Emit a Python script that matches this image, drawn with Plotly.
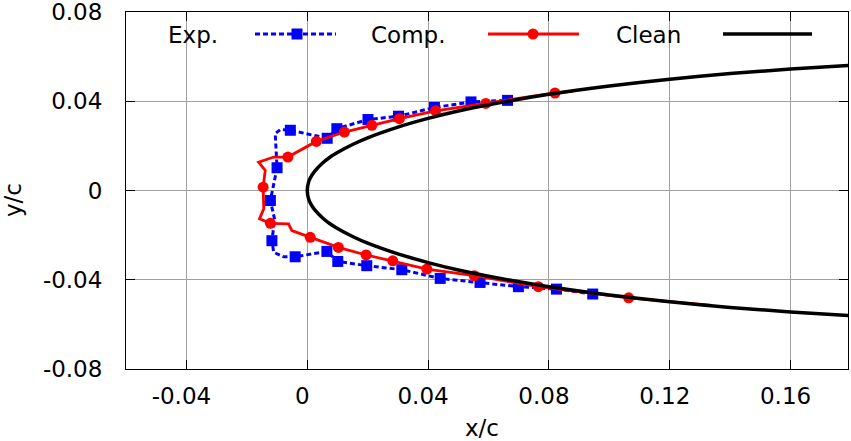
import plotly.graph_objects as go

# ---------------- data ----------------
# Experimental ice shape (blue, dotted) : path vertices, lower TE side -> LE -> upper side
exp_x = [0.0945, 0.0825, 0.0699, 0.0572, 0.0440, 0.0313, 0.0197, 0.0101, 0.0065,
         -0.0040, -0.0078, -0.0111, -0.0117, -0.0108, -0.0122, -0.0100, -0.0106,
         -0.0089, -0.0056, 0.0066, 0.0098, 0.0201, 0.0302, 0.0421, 0.0542, 0.0663]
exp_y = [-0.0464, -0.0442, -0.0431, -0.0412, -0.0394, -0.0355, -0.0337, -0.0318, -0.0273,
         -0.0297, -0.0297, -0.0277, -0.0225, -0.0130, -0.0045, 0.0102, 0.0255,
         0.0273, 0.0270, 0.0234, 0.0277, 0.0318, 0.0333, 0.0372, 0.0397, 0.0404]
exp_marked = [1, 1, 1, 1, 1, 1, 1, 1, 1,
              1, 0, 0, 1, 0, 1, 1, 0,
              0, 1, 1, 1, 1, 1, 1, 1, 1]

# Computed ice shape (red, solid)
comp_x = [0.1340, 0.1064, 0.0765, 0.0553, 0.0396, 0.0283, 0.0195, 0.0103, 0.0010,
          -0.0051, -0.0062, -0.0122, -0.0158, -0.0144, -0.0146, -0.0139, -0.0161,
          -0.0111, -0.0064, 0.0030, 0.0123, 0.0214, 0.0305, 0.0425, 0.0591, 0.0820, 0.0880]
comp_y = [-0.0515, -0.0481, -0.0431, -0.0382, -0.0352, -0.0315, -0.0289, -0.0255, -0.0210,
          -0.0180, -0.0150, -0.0147, -0.0127, -0.0082, 0.0015, 0.0090, 0.0127,
          0.0150, 0.0150, 0.0220, 0.0262, 0.0292, 0.0322, 0.0357, 0.0390, 0.0437, 0.0445]
comp_marked = [0, 1, 1, 1, 1, 1, 1, 1, 1,
               0, 0, 1, 0, 0, 1, 0, 0,
               0, 1, 1, 1, 1, 1, 1, 1, 1, 0]

# Clean airfoil leading edge (black)
clean_x = [0.18, 0.16, 0.14, 0.12, 0.10, 0.08, 0.06, 0.05, 0.04, 0.03, 0.02, 0.015,
           0.01, 0.0075, 0.005, 0.0025, 0.00125, 0.0005, 0.0,
           0.0005, 0.00125, 0.0025, 0.005, 0.0075, 0.01, 0.015, 0.02, 0.03, 0.04,
           0.05, 0.06, 0.08, 0.10, 0.12, 0.14, 0.16, 0.18]
clean_y = [-0.0561, -0.0544, -0.0524, -0.0499, -0.0468, -0.0431, -0.0384, -0.0356, -0.0323,
           -0.0284, -0.0236, -0.0206, -0.0170, -0.0149, -0.0122, -0.0087, -0.0062, -0.0040, 0.0,
           0.0040, 0.0062, 0.0087, 0.0122, 0.0149, 0.0170, 0.0206, 0.0236, 0.0284, 0.0323,
           0.0356, 0.0384, 0.0431, 0.0468, 0.0499, 0.0524, 0.0544, 0.0561]

x_ticks = [-0.04, 0.0, 0.04, 0.08, 0.12, 0.16]
x_tick_labels = ["-0.04", "0", "0.04", "0.08", "0.12", "0.16"]
y_ticks = [-0.08, -0.04, 0.0, 0.04, 0.08]
y_tick_labels = ["-0.08", "-0.04", "0", "0.04", "0.08"]
legend_labels = ["Exp.", "Comp.", "Clean"]

# ---------------- styling / layout ----------------
FONT = "DejaVu Sans"
FS = 23
BLUE = "#0000ff"
RED = "#ff0000"
W, H = 851, 441
L, R, T, B = 126, 848, 12, 369


def px(x):
    return (x - L) / (R - L)


def py(y):
    return (B - y) / (B - T)


fig = go.Figure()

# Exp.
fig.add_trace(go.Scatter(x=exp_x, y=exp_y, mode="lines",
                         line=dict(color=BLUE, width=3, dash="5px,3px"),
                         hoverinfo="skip", showlegend=False))
fig.add_trace(go.Scatter(x=[x for x, m in zip(exp_x, exp_marked) if m],
                         y=[y for y, m in zip(exp_y, exp_marked) if m],
                         mode="markers",
                         marker=dict(symbol="square", size=11, color=BLUE),
                         name=legend_labels[0], showlegend=False))
# Comp.
fig.add_trace(go.Scatter(x=comp_x, y=comp_y, mode="lines",
                         line=dict(color=RED, width=2.8),
                         hoverinfo="skip", showlegend=False))
fig.add_trace(go.Scatter(x=[x for x, m in zip(comp_x, comp_marked) if m],
                         y=[y for y, m in zip(comp_y, comp_marked) if m],
                         mode="markers",
                         marker=dict(symbol="circle", size=11, color=RED),
                         name=legend_labels[1], showlegend=False))
# Clean
fig.add_trace(go.Scatter(x=clean_x, y=clean_y, mode="lines",
                         line=dict(color="black", width=3.5, shape="spline", smoothing=0.8),
                         name=legend_labels[2], showlegend=False))

axis_common = dict(
    showgrid=True, gridcolor="#a0a0a0", gridwidth=1,
    showline=True, linecolor="black", linewidth=1, mirror="ticks",
    ticks="inside", ticklen=9, tickcolor="black", tickwidth=1,
    zeroline=False, ticklabeloverflow="allow", automargin=False,
    tickfont=dict(family=FONT, size=FS, color="black"),
)

fig.update_layout(
    width=W, height=H,
    margin=dict(l=L, r=W - R, t=T, b=H - B, pad=0, autoexpand=False),
    paper_bgcolor="white", plot_bgcolor="white",
    font=dict(family=FONT, size=FS, color="black"),
    xaxis=dict(range=[-0.06, 0.179], tickmode="array", tickvals=x_ticks,
               ticktext=x_tick_labels, ticklabelshift=-5, ticklabelstandoff=6,
               **axis_common),
    yaxis=dict(range=[-0.08, 0.08], tickmode="array", tickvals=y_ticks,
               ticktext=y_tick_labels, ticklabelstandoff=18, **axis_common),
)

shapes = []
# opaque key box (hides grid behind legend)
shapes.append(dict(type="rect", xref="paper", yref="paper",
                   x0=px(127), x1=px(847), y0=py(52), y1=py(21),
                   fillcolor="white", line=dict(width=0), layer="between"))
ky = py(34)
# Exp. sample
shapes.append(dict(type="line", xref="paper", yref="paper", x0=px(255), x1=px(336),
                   y0=ky, y1=ky, line=dict(color=BLUE, width=3, dash="5px,3px")))
shapes.append(dict(type="rect", xref="paper", yref="paper", x0=px(291.5), x1=px(302.5),
                   y0=py(39.5), y1=py(28.5), fillcolor=BLUE, line=dict(width=0)))
# Comp. sample
shapes.append(dict(type="line", xref="paper", yref="paper", x0=px(488), x1=px(579),
                   y0=ky, y1=ky, line=dict(color=RED, width=2.8)))
shapes.append(dict(type="circle", xref="paper", yref="paper", x0=px(527.5), x1=px(538.5),
                   y0=py(39.5), y1=py(28.5), fillcolor=RED, line=dict(width=0)))
# Clean sample
shapes.append(dict(type="line", xref="paper", yref="paper", x0=px(723), x1=px(812),
                   y0=ky, y1=ky, line=dict(color="black", width=3.5)))
fig.update_layout(shapes=shapes)

annotations = []
for lab, xr in zip(legend_labels, [220, 447, 683]):
    annotations.append(dict(text=lab, xref="paper", yref="paper", x=px(xr), y=py(35),
                            xanchor="right", yanchor="middle", showarrow=False,
                            font=dict(family=FONT, size=FS, color="black")))
annotations.append(dict(text="x/c", xref="paper", yref="paper", x=px(482), y=py(428),
                        xanchor="center", yanchor="middle", showarrow=False,
                        font=dict(family=FONT, size=FS, color="black")))
annotations.append(dict(text="y/c", xref="paper", yref="paper", x=px(13), y=py(200),
                        xanchor="center", yanchor="middle", showarrow=False, textangle=-90,
                        font=dict(family=FONT, size=FS, color="black")))
fig.update_layout(annotations=annotations)

fig.write_html("out.html")
